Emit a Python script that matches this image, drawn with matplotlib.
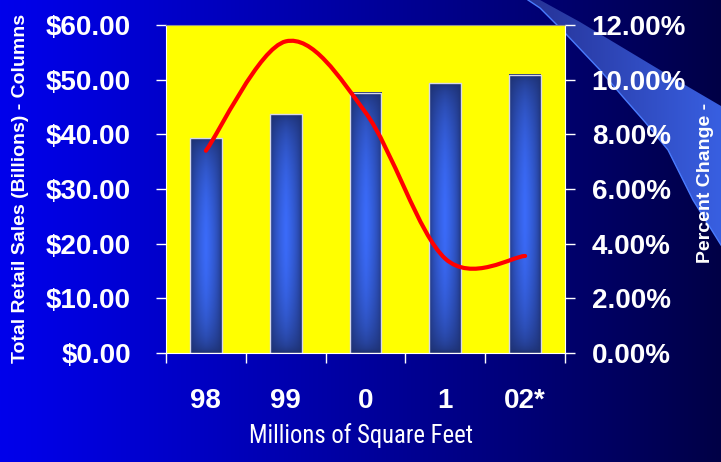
import numpy as np
import matplotlib
matplotlib.use("Agg")
import matplotlib.pyplot as plt
from matplotlib.path import Path
from matplotlib.patches import PathPatch, Polygon, Rectangle

# Data
years = ["98", "99", "0", "1", "02*"]
sales = [39.3, 43.7, 47.6, 49.3, 50.9]          # $ billions (columns)
pct_change = [7.4, 11.4, 8.8, 3.45, 3.55]       # percent (line)

sales_ticks = np.arange(0, 61, 10)
pct_ticks = np.arange(0, 13, 2)

FONT = ["Liberation Sans", "DejaVu Sans"]
NARROW = ["Liberation Sans Narrow", "Roboto Condensed", "Liberation Sans",
          "DejaVu Sans"]

W, H = 721, 462
fig = plt.figure(figsize=(W / 100, H / 100), dpi=100)

# Background: horizontal blue gradient plus the light swoosh at top right
bg = fig.add_axes([0, 0, 1, 1], zorder=-5)
bg.axis("off")
t = np.linspace(0, 1, 256)
grad = np.zeros((1, 256, 3))
grad[0, :, 2] = (235 - 165 * t ** 1.1) / 255
bg.imshow(grad, extent=[0, W, H, 0], aspect="auto")

upper = [(540, 0), (580, 22), (630, 52), (680, 82), (721, 106)]
lower = [(721, 245), (693, 200), (668, 150), (645, 122), (623, 97),
         (600, 70), (565, 33), (540, 8), (528, 0)]
swoosh = Polygon(upper + lower, closed=True, facecolor="none", edgecolor="none")
bg.add_patch(swoosh)
sw = np.zeros((1, 256, 3))
sw[0, :, 0] = (38 + 18 * t) / 255
sw[0, :, 1] = (50 + 45 * t) / 255
sw[0, :, 2] = (150 + 75 * t) / 255
im = bg.imshow(sw, extent=[528, W, H, 0], aspect="auto")
im.set_clip_path(swoosh)
bg.plot([p[0] for p in lower], [p[1] for p in lower], color="#4a7cff", lw=1)
bg.set_xlim(0, W)
bg.set_ylim(H, 0)

# Main axes
ax = fig.add_axes([166 / W, 1 - 353 / H, (565 - 166) / W, (353 - 25) / H])
ax.set_facecolor("#ffff00")
x = np.arange(len(years))

# Cylinder-style shading for the columns
dark = np.array([0.11, 0.18, 0.42])
bright = np.array([0.23, 0.42, 0.98])
u = np.linspace(-1, 1, 60)
v = np.linspace(-1, 1, 200)
hx = np.clip(1 - np.abs(u) ** 1.1, 0, 1)
hy = np.clip(1 - np.abs(v) ** 1.8, 0, 1)
shade = np.sqrt(np.outer(hy, hx))[..., None]
bar_img = dark + (bright - dark) * shade

bar_w = 0.4
for xi, h in zip(x, sales):
    ax.imshow(bar_img, extent=[xi - bar_w / 2, xi + bar_w / 2, 0, h],
              aspect="auto", zorder=2)
    ax.add_patch(Rectangle((xi - bar_w / 2, 0), bar_w, h, fill=False,
                           edgecolor="#d8d8e8", lw=1, zorder=3))
ax.set_xlim(-0.5, len(years) - 0.5)
ax.set_ylim(0, 60)

ax.set_yticks(sales_ticks)
ax.set_yticklabels([f"${v:.2f}" for v in sales_ticks])
ax.set_xticks(x)
ax.set_xticklabels(years)
ax.set_xticks(np.arange(-0.5, len(years)), minor=True)
ax.tick_params(axis="x", which="major", length=0, pad=25, colors="white")
ax.tick_params(axis="x", which="minor", length=7.2, width=1, color="white",
               direction="out")
ax.tick_params(axis="y", length=7.2, width=1, color="white", pad=18,
               labelcolor="white")
for lab in ax.get_xticklabels() + ax.get_yticklabels():
    lab.set_family(FONT)
    lab.set_fontsize(20)
    lab.set_fontweight("bold")
for side in ["left", "bottom", "right"]:
    ax.spines[side].set_color("white")
ax.spines["top"].set_color("#909090")

# Percent change line on the secondary axis, smoothed with Bezier segments
ax2 = ax.twinx()
ax2.set_ylim(0, 12)
ax2.set_yticks(pct_ticks)
ax2.set_yticklabels([f"{v:.2f}%" for v in pct_ticks])
ax2.tick_params(axis="y", length=7.2, width=1, color="white", pad=12,
                labelcolor="white")
for lab in ax2.get_yticklabels():
    lab.set_family(FONT)
    lab.set_fontsize(20)
    lab.set_fontweight("bold")
for side in ax2.spines:
    ax2.spines[side].set_visible(False)

pts = np.column_stack([x, pct_change]).astype(float)
verts = [tuple(pts[0])]
codes = [Path.MOVETO]
n = len(pts)
for i in range(n - 1):
    p0 = pts[max(i - 1, 0)]
    p1 = pts[i]
    p2 = pts[i + 1]
    p3 = pts[min(i + 2, n - 1)]
    c1 = p1 + (p2 - p0) / 6
    c2 = p2 - (p3 - p1) / 6
    verts += [tuple(c1), tuple(c2), tuple(p2)]
    codes += [Path.CURVE4] * 3
ax2.add_patch(PathPatch(Path(verts, codes), facecolor="none",
                        edgecolor="#ff0000", lw=3, capstyle="round",
                        zorder=4))

# Axis titles
fig.text(21 / W, 1 - 188 / H, "Total Retail Sales (Billions) - Columns",
         rotation=90, ha="center", va="center", color="white",
         fontsize=14, fontweight="bold", family=FONT)
fig.text(706 / W, 1 - 183 / H, "Percent Change -", rotation=90,
         ha="center", va="center", color="white", fontsize=14,
         fontweight="bold", family=FONT)
fig.text(361 / W, 1 - 443 / H, "Millions of Square Feet", ha="center",
         va="baseline", color="white", fontsize=17.7, family=NARROW)

fig.savefig("out.png", dpi=100)
